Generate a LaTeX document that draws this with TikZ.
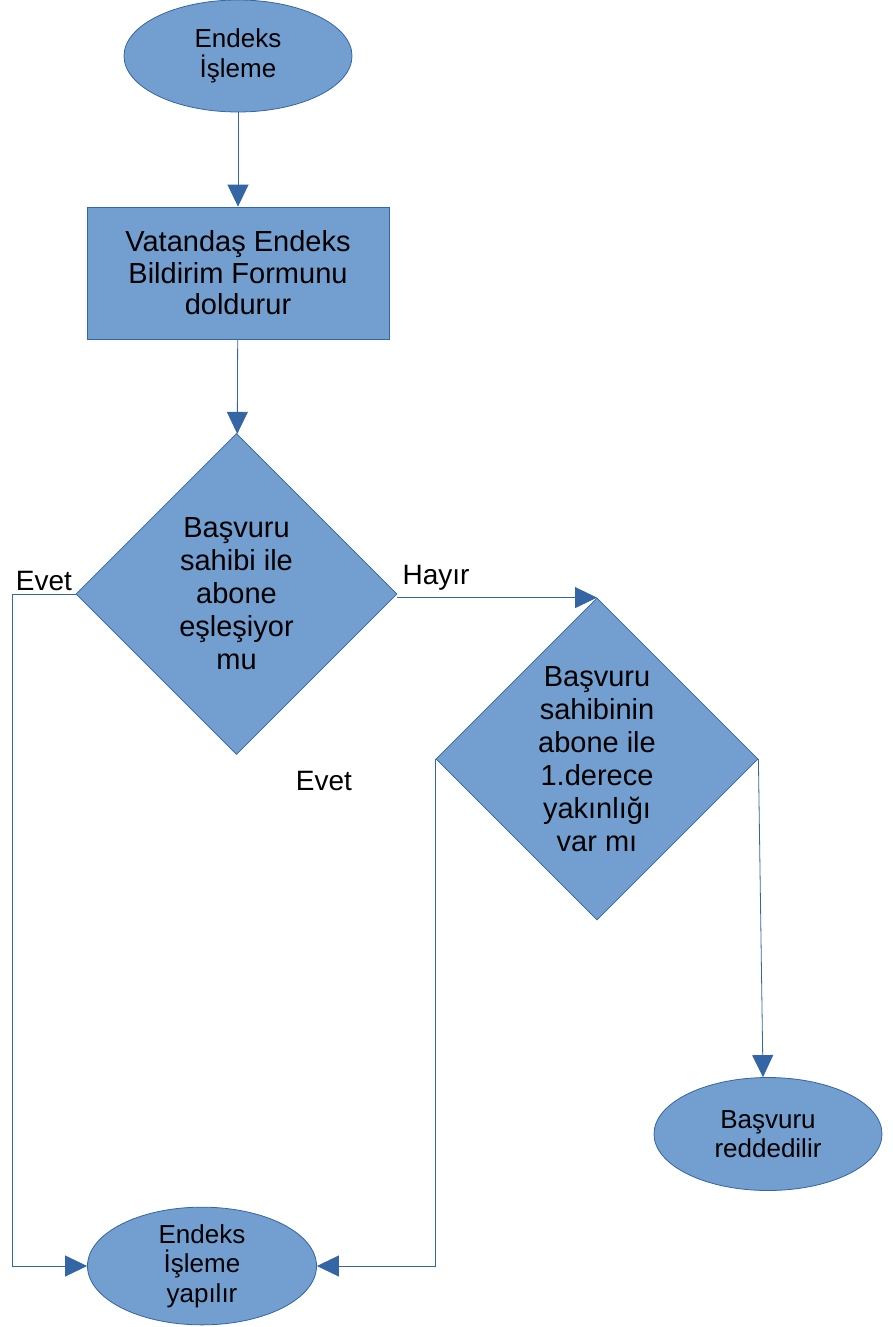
\documentclass[tikz,border=0pt]{standalone}
\usepackage{fontspec}
\setmainfont{Liberation Sans}
\usetikzlibrary{shapes.geometric,arrows.meta}
\definecolor{boxfill}{HTML}{729FCF}
\definecolor{boxline}{HTML}{3465A4}
\tikzset{
  base/.style={fill=boxfill, draw=boxline, line width=0.8pt, inner sep=0pt, align=center, text=black},
  term/.style={base, ellipse, font=\fontsize{26}{29.5}\selectfont},
  procbox/.style={base, rectangle, font=\fontsize{29}{31.5}\selectfont},
  decis/.style={base, diamond, aspect=1, font=\fontsize{29}{33}\selectfont},
  arr/.style={draw=boxline, line width=0.8pt, -{Triangle[length=22pt,width=21pt]}},
  lbl/.style={font=\fontsize{28}{32}\selectfont, inner sep=0pt}
}
\begin{document}
\begin{tikzpicture}[x=1pt,y=-1pt]
\useasboundingbox (0,0) rectangle (893,1327);
\node[term, minimum width=228pt, minimum height=112pt] (e1) at (238,56) {Endeks\\İşleme};
\node[procbox, minimum width=302pt, minimum height=132pt] (r1) at (238,273) {Vatandaş Endeks\\Bildirim Formunu\\doldurur};
\node[decis, minimum width=321pt, minimum height=321pt] (d1) at (236.5,594) {Başvuru\\sahibi ile\\abone\\eşleşiyor\\mu};
\node[decis, minimum width=322pt, minimum height=322pt] (d2) at (597,759) {Başvuru\\sahibinin\\abone ile\\1.derece\\yakınlığı\\var mı};
\node[term, minimum width=229pt, minimum height=114pt] (e3) at (202,1266) {Endeks\\İşleme\\yapılır};
\node[term, minimum width=228pt, minimum height=113pt] (e4) at (768,1134) {Başvuru\\reddedilir};

\node[lbl] (l1) at (44,581) {Evet};
\node[lbl] (l2) at (436,578) {Hayır};
\node[lbl] (l3) at (324,781) {Evet};

\coordinate (c1) at (12,594);
\draw[arr] (e1) -- (r1);
\draw[arr] (r1) -- (d1);
\draw[arr] (d1.east |- d2.north) -- (d2.north);
\draw[arr] (d1.west) -- (c1) |- (e3.west);
\draw[arr] (d2.west) |- (e3.east);
\draw[arr] (d2.east) -- ([xshift=-5pt]e4.north);
\end{tikzpicture}
\end{document}
